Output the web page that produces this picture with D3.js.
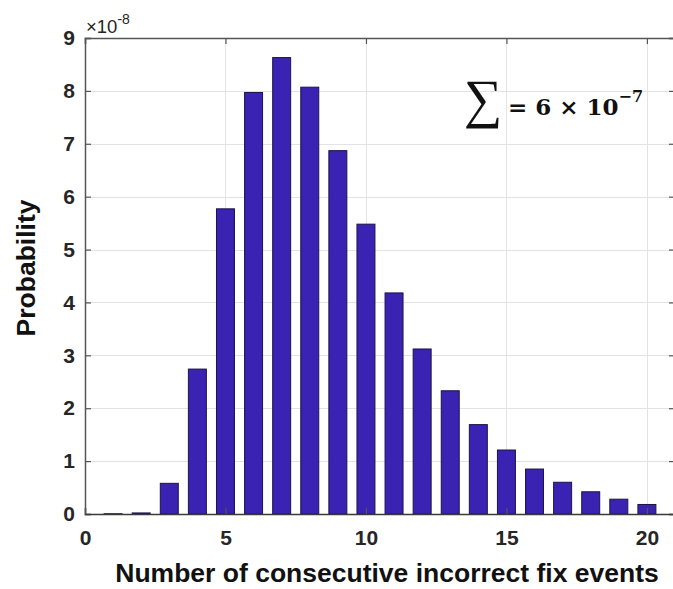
<!DOCTYPE html>
<html>
<head>
<meta charset="utf-8">
<script src="https://cdn.jsdelivr.net/npm/d3@7"></script>
<style>
  html, body { margin: 0; padding: 0; background: #fff; }
  svg { display: block; }
</style>
</head>
<body>
<svg id="chart" width="673" height="589"></svg>
<script>
// Number of consecutive incorrect fix events (1..20)
const events = [1, 2, 3, 4, 5, 6, 7, 8, 9, 10, 11, 12, 13, 14, 15, 16, 17, 18, 19, 20];
// Probability of each run length, in units of 1e-8
const probability = [0.005, 0.02, 0.58, 2.74, 5.77, 7.97, 8.63, 8.07, 6.87, 5.48,
                     4.18, 3.12, 2.33, 1.69, 1.21, 0.85, 0.60, 0.42, 0.28, 0.18];
const xTicks = [0, 5, 10, 15, 20];
const yTicks = [0, 1, 2, 3, 4, 5, 6, 7, 8, 9];

const svg = d3.select("#chart");
const plotLeft = 85, plotRight = 675, plotTop = 38, plotBottom = 514;

const x = d3.scaleLinear().domain([0, 21]).range([plotLeft, plotRight]);
const y = d3.scaleLinear().domain([0, 9]).range([plotBottom, plotTop]);

const font = "'Liberation Sans', Arial, sans-serif";

// grid lines
const grid = svg.append("g").attr("stroke", "#e3e3e3").attr("stroke-width", 1);
grid.selectAll("line.h").data(yTicks.slice(1)).join("line")
  .attr("x1", plotLeft).attr("x2", plotRight)
  .attr("y1", d => Math.round(y(d)) + 0.5).attr("y2", d => Math.round(y(d)) + 0.5);
grid.selectAll("line.v").data(xTicks.slice(1)).join("line")
  .attr("y1", plotTop).attr("y2", plotBottom)
  .attr("x1", d => Math.round(x(d)) + 0.5).attr("x2", d => Math.round(x(d)) + 0.5);

// bars
const barW = x(0.64) - x(0);
svg.append("g").selectAll("rect").data(events).join("rect")
  .attr("x", (d) => x(d) - barW / 2)
  .attr("width", barW)
  .attr("y", (d, i) => y(probability[i]))
  .attr("height", (d, i) => y(0) - y(probability[i]))
  .attr("fill", "#3a22b2")
  .attr("stroke", "#1c1448")
  .attr("stroke-width", 1);

// axes (inward ticks)
const axisColor = "#555";
const yAxis = svg.append("g").attr("transform", `translate(${plotLeft},0)`)
  .call(d3.axisLeft(y).tickValues(yTicks).tickSize(-6).tickPadding(10).tickFormat(d3.format("d")));
const yAxisR = svg.append("g").attr("transform", `translate(${plotRight},0)`)
  .call(d3.axisRight(y).tickValues(yTicks).tickSize(-6).tickFormat(""));
const xAxis = svg.append("g").attr("transform", `translate(0,${plotBottom})`)
  .call(d3.axisBottom(x).tickValues(xTicks).tickSize(-6).tickPadding(16).tickFormat(d3.format("d")));
const xAxisT = svg.append("g").attr("transform", `translate(0,${plotTop})`)
  .call(d3.axisTop(x).tickValues(xTicks).tickSize(-6).tickFormat(""));

[yAxis, yAxisR, xAxis, xAxisT].forEach(a => {
  a.select(".domain").attr("stroke", axisColor).attr("stroke-width", 1.5);
  a.selectAll(".tick line").attr("stroke", axisColor).attr("stroke-width", 1.2);
  a.selectAll(".tick text")
    .attr("fill", "#262626")
    .style("font-family", font)
    .style("font-weight", "bold")
    .style("font-size", "21px");
});
xAxis.select(".domain").attr("stroke", "#3a3a3a");

// exponent label
const expo = svg.append("text").attr("x", 86).attr("y", 33)
  .attr("fill", "#262626").style("font-family", font).style("font-size", "18.5px");
expo.append("tspan").text("×10");
expo.append("tspan").attr("dy", -9).style("font-size", "14px").text("-8");

// axis titles
svg.append("text")
  .attr("x", 387).attr("y", 582)
  .attr("text-anchor", "middle")
  .attr("fill", "#111")
  .style("font-family", font).style("font-weight", "bold").style("font-size", "26.5px")
  .text("Number of consecutive incorrect fix events");

svg.append("text")
  .attr("transform", "translate(35,268) rotate(-90)")
  .attr("text-anchor", "middle")
  .attr("fill", "#111")
  .style("font-family", font).style("font-weight", "bold").style("font-size", "26.5px")
  .text("Probability");

// total annotation
const serif = "'DejaVu Serif', 'Liberation Serif', serif";
svg.append("text")
  .attr("x", 464).attr("y", 117)
  .attr("fill", "#111")
  .style("font-family", "'Liberation Serif', serif").style("font-size", "54px")
  .text("∑");
const sum = svg.append("text").attr("x", 508).attr("y", 115)
  .attr("fill", "#111")
  .style("font-family", serif).style("font-weight", "bold").style("font-size", "23px");
sum.append("tspan").text("= 6 × 10");
sum.append("tspan").attr("dy", -13).style("font-size", "16px").text("−7");
</script>
</body>
</html>
